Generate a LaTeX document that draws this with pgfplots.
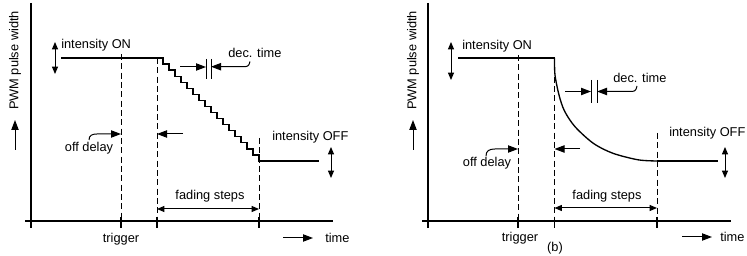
\documentclass[border=0pt]{standalone}
\usepackage{fontspec}
\setmainfont{Liberation Sans}
\usepackage{pgfplots}
\pgfplotsset{compat=1.18}
\usetikzlibrary{arrows.meta}
\begin{document}
\begin{tikzpicture}[
  txt/.style={font=\fontsize{9.6}{11}\selectfont, inner sep=0pt},
  arr/.style={line width=0.75pt, -{Triangle[length=7.5pt,width=5.5pt]}},
  darr/.style={line width=0.75pt, {Triangle[length=5.5pt,width=4.5pt]}-{Triangle[length=5.5pt,width=4.5pt]}},
  dsh/.style={line width=0.7pt, dash pattern=on 4.5pt off 2.5pt},
  ax/.style={line width=0.8pt},
]
\path[use as bounding box] (0,0) rectangle (560.25pt,192pt);
\clip (0,0) rectangle (560.25pt,192pt);
\pgfplotsset{panel/.style={hide axis, scale only axis, width=280.125pt, height=192pt,
  ymin=0, ymax=256, y dir=reverse, clip=false, anchor=south west}}
% ---------------- left panel ----------------
\begin{axis}[panel, xmin=0, xmax=373.5, at={(0pt,0pt)}]
% axes
\addplot[ax] coordinates {(31,3) (31,228)};
\addplot[ax] coordinates {(25,221) (333,221)};
\draw[ax] (121,217)--(121,228);
\draw[ax] (157,217)--(157,228);
\draw[ax] (259,217)--(259,228);
% dashed guides
\draw[dsh] (121,54)--(121,221);
\draw[dsh] (157,58)--(157,221);
\draw[dsh] (259,138)--(259,221);
% signal (stair steps)
\addplot[black, line width=1pt, const plot mark left] coordinates {
 (61,58) (157,58) (163,64.06) (169,70.12) (175,76.18) (181,82.24) (187,88.29)
 (193,94.35) (199,100.41) (205,106.47) (211,112.53) (217,118.59) (223,124.65)
 (229,130.71) (235,136.76) (241,142.82) (247,148.88) (253,154.94) (259,161) (319,161)};
% annotations
\draw[darr] (55,42)--(55,74);
\node[txt, anchor=west] at (61,45) {intensity ON};
\draw[arr] (180,67)--(206,67);
\draw[line width=0.7pt] (206,59)--(206,79);
\draw[line width=0.7pt] (211,59)--(211,79);
\draw[arr] (250,61.5) .. controls (249,66.7) and (247,66.7) .. (243,66.7) -- (211,66.7);
\node[txt, anchor=west] at (228,53) {dec. time};
\draw[arr] (89,140) .. controls (89,135.5) and (92,134) .. (97,134) -- (121,134);
\node[txt] at (89,148) {off delay};
\draw[arr] (183,134)--(157,134);
\node[txt, anchor=west] at (272,137) {intensity OFF};
\draw[darr] (331,147)--(331,178);
\node[txt] at (210,196) {fading steps};
\draw[darr] (157,209)--(259,209);
\node[txt] at (121,239) {trigger};
\draw[arr] (283,238)--(313,238);
\node[txt, anchor=west] at (325,238) {time};
\node[txt, rotate=90] at (15,60.5) {PWM pulse width};
\draw[arr] (15,150)--(15,120);
\end{axis}
% ---------------- right panel ----------------
\begin{axis}[panel, xmin=373.5, xmax=747, at={(280.125pt,0pt)}]
\addplot[ax] coordinates {(428,3) (428,228)};
\addplot[ax] coordinates {(422,221) (731,221)};
\draw[ax] (518,217)--(518,228);
\draw[ax] (554.5,217)--(554.5,228);
\draw[ax] (657,217)--(657,228);
\draw[dsh] (518,55)--(518,221);
\draw[dsh] (554.5,58)--(554.5,221);
\draw[dsh] (657,133)--(657,221);
% signal
\addplot[black, line width=1pt] coordinates {(458,58) (554.5,58)};
\addplot[black, line width=1pt, smooth] coordinates {
 (554.5,58) (555,75) (559,95) (564.5,111) (575,126.7) (593.3,143.3)
 (613,153.3) (638,159.8) (657,161)};
\addplot[black, line width=1pt] coordinates {(657,161) (718,161)};
% annotations
\draw[darr] (451,42)--(451,80);
\node[txt, anchor=west] at (462,46) {intensity ON};
\draw[arr] (565,91.5)--(591,91.5);
\draw[line width=0.7pt] (591,80)--(591,103);
\draw[line width=0.7pt] (597,80)--(597,103);
\draw[arr] (637,86) .. controls (636,91.5) and (634,91.5) .. (630,91.5) -- (597,91.5);
\node[txt, anchor=west] at (613,78) {dec. time};
\draw[arr] (486,156) .. controls (486,151) and (489,149) .. (495,149) -- (518,149);
\node[txt] at (487,163) {off delay};
\draw[arr] (580,149)--(554.5,149);
\node[txt, anchor=west] at (669,133) {intensity OFF};
\draw[darr] (725,147)--(725,178);
\node[txt] at (607,196) {fading steps};
\draw[darr] (554.5,208)--(657,208);
\node[txt] at (520,238) {trigger};
\node[txt] at (555,248.5) {(b)};
\draw[arr] (682,237)--(712,237);
\node[txt, anchor=west] at (720,237) {time};
\node[txt, rotate=90] at (413,60.5) {PWM pulse width};
\draw[arr] (413,150)--(413,120);
\end{axis}
\end{tikzpicture}
\end{document}
